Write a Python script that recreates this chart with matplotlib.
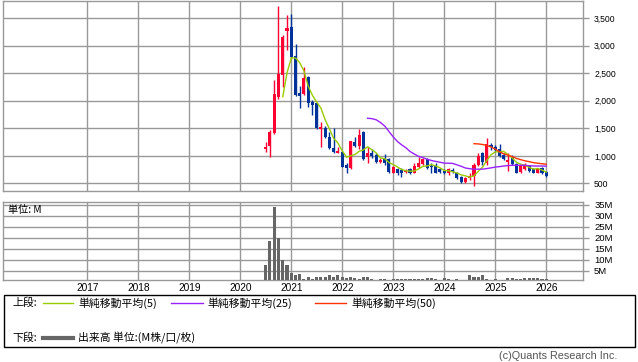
import numpy as np
import pandas as pd
import matplotlib
matplotlib.use('Agg')
import matplotlib.pyplot as plt
import matplotlib.dates as mdates
from matplotlib.lines import Line2D
from matplotlib.patches import Rectangle
from matplotlib.ticker import FixedLocator, FuncFormatter
from datetime import datetime

# ---------------- data ----------------
months = pd.date_range('2020-07-01', periods=67, freq='MS')
opens = [1120, 1185, 1421, 2075, 2470, 3275, 3347, 2815, 2137, 2124,
         2428, 1979, 1955, 1483, 1501, 1338, 1143, 1052, 1076, 840,
         774, 1258, 1180, 1440, 974, 1058, 1016, 894, 938, 938,
         695, 756, 744, 707, 767, 695, 803, 847, 938, 816,
         816, 756, 731, 695, 744, 683, 622, 531, 593, 635,
         834, 1058, 865, 1198, 1156, 1120, 1016, 888, 985, 852,
         713, 756, 816, 756, 695, 774, 707]
highs = [1258, 1470, 2379, 3723, 3197, 3560, 3578, 3033, 2270, 2621,
         2452, 2015, 1961, 1621, 1543, 1440, 1501, 1167, 1089, 870,
         1270, 1348, 1489, 1452, 1167, 1120, 1047, 956, 1034, 956,
         816, 774, 774, 756, 774, 865, 985, 956, 956, 876,
         865, 774, 756, 774, 774, 713, 635, 622, 683, 865,
         1047, 1076, 1320, 1229, 1200, 1216, 1047, 1047, 1016, 865,
         852, 865, 834, 774, 774, 793, 731]
lows = [1076, 985, 1398, 2028, 2257, 2924, 2773, 2088, 1876, 2106,
        1894, 1743, 1489, 1167, 1320, 1120, 1058, 1047, 793, 695,
        762, 1156, 1120, 925, 865, 956, 876, 865, 834, 695,
        683, 653, 622, 695, 671, 683, 785, 834, 756, 683,
        683, 683, 671, 653, 683, 575, 513, 513, 562, 453,
        816, 834, 834, 1107, 1070, 985, 925, 731, 834, 683,
        695, 744, 713, 683, 683, 671, 622]
closes = [1167, 1429, 2124, 2488, 3166, 3324, 2802, 2106, 2088, 2410,
          1966, 1930, 1501, 1530, 1338, 1138, 1071, 1089, 803, 774,
          1265, 1180, 1380, 938, 1058, 998, 894, 925, 865, 713,
          803, 683, 695, 744, 683, 816, 865, 938, 774, 803,
          695, 707, 683, 756, 707, 593, 531, 593, 635, 834,
          998, 894, 1216, 1156, 1100, 998, 938, 925, 852, 695,
          834, 834, 731, 695, 756, 695, 635]
volume_m = [7.5, 18.4, 33.7, 20.0, 10.1, 7.5, 4.2, 3.3, 3.5, 1.5,
            2.5, 1.5, 2.2, 2.2, 2.5, 3.3, 2.5, 3.3, 2.5, 1.7,
            2.2, 1.7, 1.5, 2.2, 2.5, 1.5, 1.0, 1.5, 1.5, 0.8,
            1.2, 1.2, 1.2, 1.2, 1.5, 1.2, 1.2, 1.5, 2.0, 2.0,
            1.2, 1.0, 1.8, 1.5, 1.0, 1.2, 1.0, 0.8, 3.0, 2.5,
            2.2, 3.0, 1.5, 1.0, 1.2, 1.0, 0.6, 1.8, 1.8, 1.5,
            1.5, 2.0, 1.8, 1.8, 1.8, 1.5, 1.5]
years = list(range(2017, 2027))
price_ticks = [500, 1000, 1500, 2000, 2500, 3000, 3500]
vol_ticks = [5, 10, 15, 20, 25, 30, 35]
ma_periods = [5, 25, 50]
ma_colors = ['#99cc00', '#9922ff', '#ff3300']
legend_ma = ['単純移動平均(5)', '単純移動平均(25)', '単純移動平均(50)']

# ---------------- style ----------------
W, H = 638, 362
GRID = '#999999'
UP = '#ff0033'
DOWN = '#003399'
plt.rcParams['font.family'] = ['Liberation Sans', 'Noto Sans CJK JP', 'DejaVu Sans']
JP = ['Noto Sans CJK JP', 'DejaVu Sans']

fig = plt.figure(figsize=(W / 100, H / 100), dpi=100)


def px_axes(l, t, r, b):
    return fig.add_axes([l / W, 1 - b / H, (r - l) / W, (b - t) / H])


def fx(x):
    return x / W


def fy(y):
    return 1 - y / H


ax1 = px_axes(3, 1, 583, 190.7)
ax2 = px_axes(3, 201.7, 583, 280)

x_dates = mdates.date2num(months.to_pydatetime())
d2017 = mdates.date2num(datetime(2017, 1, 1))
d2026 = mdates.date2num(datetime(2026, 1, 1))
ppy = (546.3 - 87.3) / 9.0
xmin = d2017 - (87.3 - 3) / ppy * 365.25
xmax = d2026 + (583 - 546.3) / ppy * 365.25
year_pos = [mdates.date2num(datetime(y, 1, 1)) for y in years]

for ax in (ax1, ax2):
    ax.set_xlim(xmin, xmax)
    for s in ax.spines.values():
        s.set_color(GRID)
        s.set_linewidth(1)
    ax.xaxis.set_major_locator(FixedLocator(year_pos))
    ax.yaxis.tick_right()
    ax.grid(True, color=GRID, linewidth=1)
    ax.set_axisbelow(True)
    ax.tick_params(axis='y', direction='out', length=4, color=GRID, width=1, pad=4)
    ax.tick_params(axis='x', length=0)

# ---------------- candles ----------------
o = np.array(opens, float)
h = np.array(highs, float)
l = np.array(lows, float)
c = np.array(closes, float)
up = c >= o
cols = np.where(up, UP, DOWN)
ax1.vlines(x_dates, l, h, colors=cols, linewidth=1, zorder=3)
body_bottom = np.minimum(o, c)
body_h = np.maximum(np.abs(c - o), 16)
ax1.bar(x_dates, body_h, bottom=body_bottom, width=22, color=cols,
        linewidth=0, zorder=4)

cs = pd.Series(c)
for p, col in zip(ma_periods, ma_colors):
    ma = cs.rolling(p).mean()
    ax1.plot(x_dates, ma.values, color=col, linewidth=1, zorder=5)

ax1.set_ylim(366, 3814)
ax1.yaxis.set_major_locator(FixedLocator(price_ticks))
ax1.yaxis.set_major_formatter(FuncFormatter(lambda v, pos: f'{int(v):,}'))
ax1.tick_params(axis='y', labelsize=6.2)
ax1.tick_params(axis='x', labelbottom=False)

# ---------------- volume ----------------
ax2.bar(x_dates, volume_m, width=22, color='#666666', linewidth=0, zorder=3)
ax2.set_ylim(0.93, 36.3)
ax2.yaxis.set_major_locator(FixedLocator(vol_ticks))
ax2.yaxis.set_major_formatter(FuncFormatter(lambda v, pos: f'{int(v)}M'))
ax2.tick_params(axis='y', labelsize=6.8, pad=4)
ax2.set_xticklabels([str(y) for y in years])
ax2.tick_params(axis='x', labelsize=7.3, pad=2)
ax2.text(5 / 580, 1 - 8 / 78.3, '単位: M', transform=ax2.transAxes,
         fontsize=7.3, family=JP, va='center', ha='left')

# ---------------- legend box ----------------
fig.patches.append(Rectangle((fx(3.5), fy(346.7)), fx(634.5) - fx(3.5),
                             fy(295) - fy(346.7), transform=fig.transFigure,
                             fill=False, edgecolor='black', linewidth=1))
ly1, ly2 = 303, 337.5
LFS = 7.8
fig.text(fx(12), fy(ly1), '上段:', family=JP, fontsize=LFS, va='center')
fig.text(fx(12), fy(ly2), '下段:', family=JP, fontsize=LFS, va='center')
leg_x = [(43, 73, 78), (171, 203, 207), (315, 346, 351)]
for (a, b, t), col, lab in zip(leg_x, ma_colors, legend_ma):
    fig.lines.append(Line2D([fx(a), fx(b)], [fy(ly1), fy(ly1)],
                            transform=fig.transFigure, color=col, linewidth=1))
    fig.text(fx(t), fy(ly1), lab, family=JP, fontsize=LFS, va='center')
fig.lines.append(Line2D([fx(43), fx(73)], [fy(ly2), fy(ly2)],
                        transform=fig.transFigure, color='#666666', linewidth=3))
fig.text(fx(78), fy(ly2), '出来高 単位:(M株/口/枚)', family=JP, fontsize=LFS,
         va='center')

fig.text(fx(617), fy(356), '(c)Quants Research Inc.', fontsize=7.8,
         color='#555555', ha='right', va='center')

fig.savefig('out.png', dpi=100)
